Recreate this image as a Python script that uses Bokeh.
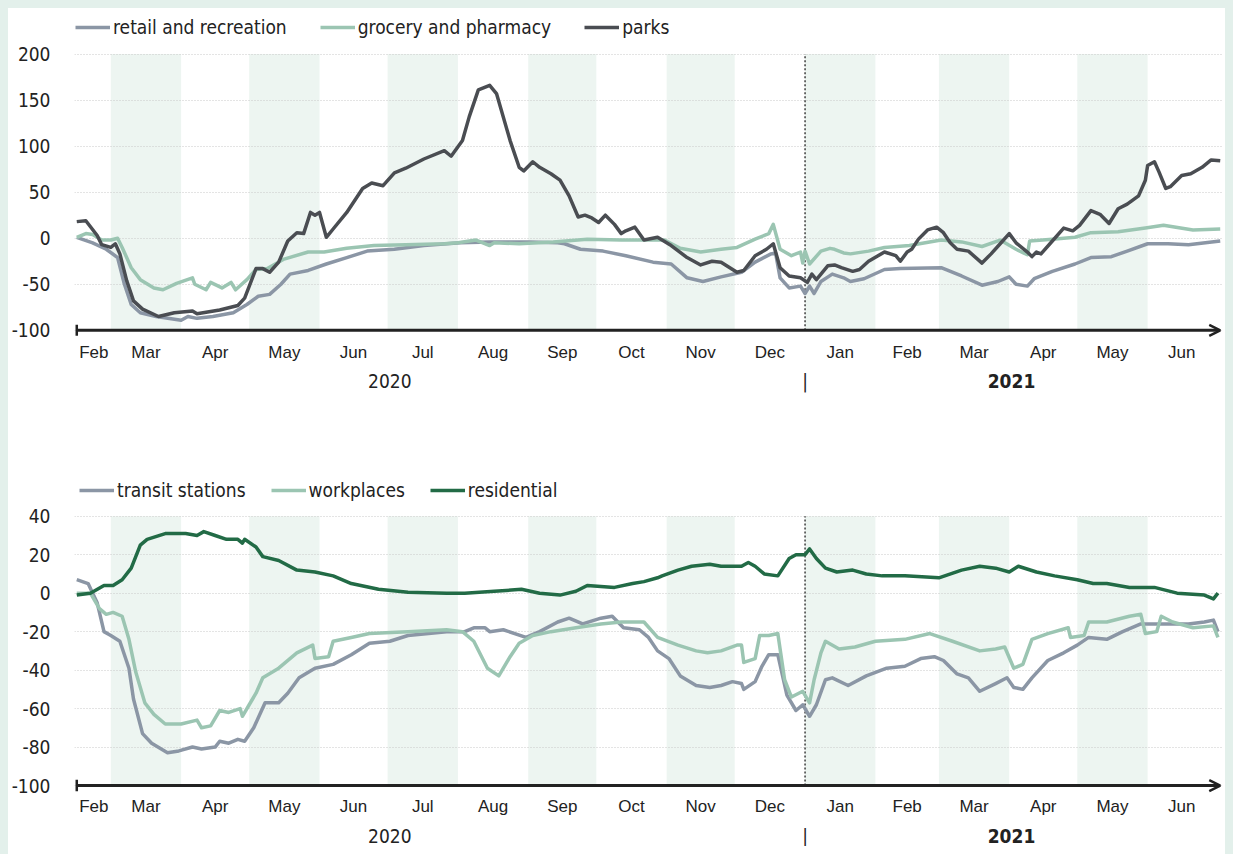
import re
import pandas as pd
from bokeh.plotting import figure
from bokeh.models import (FixedTicker, Legend, LegendItem, Arrow, OpenHead, Range1d)
from bokeh.layouts import column
from bokeh.embed import file_html
from bokeh.resources import INLINE
from bokeh.core.properties import value

# ---------------- data (Google mobility, % change vs baseline) ----------------
parks_dates = ["2020-02-15","2020-02-19","2020-02-24","2020-02-26","2020-03-01","2020-03-03","2020-03-05","2020-03-08","2020-03-11","2020-03-15","2020-03-22","2020-03-29","2020-04-06","2020-04-08","2020-04-18","2020-04-26","2020-04-29","2020-05-04","2020-05-07","2020-05-10","2020-05-14","2020-05-18","2020-05-22","2020-05-25","2020-05-28","2020-05-30","2020-06-01","2020-06-04","2020-06-07","2020-06-13","2020-06-20","2020-06-24","2020-06-29","2020-07-04","2020-07-09","2020-07-17","2020-07-26","2020-07-29","2020-08-03","2020-08-06","2020-08-10","2020-08-15","2020-08-18","2020-08-24","2020-08-28","2020-08-30","2020-09-03","2020-09-06","2020-09-11","2020-09-15","2020-09-19","2020-09-23","2020-09-26","2020-09-29","2020-10-02","2020-10-05","2020-10-09","2020-10-12","2020-10-14","2020-10-18","2020-10-22","2020-10-28","2020-11-03","2020-11-10","2020-11-16","2020-11-21","2020-11-25","2020-12-02","2020-12-05","2020-12-10","2020-12-15","2020-12-18","2020-12-21","2020-12-25","2020-12-30","2021-01-02","2021-01-04","2021-01-06","2021-01-11","2021-01-14","2021-01-17","2021-01-22","2021-01-25","2021-01-29","2021-02-05","2021-02-10","2021-02-12","2021-02-15","2021-02-17","2021-02-20","2021-02-24","2021-02-28","2021-03-03","2021-03-06","2021-03-09","2021-03-14","2021-03-20","2021-03-24","2021-03-28","2021-04-01","2021-04-04","2021-04-09","2021-04-11","2021-04-13","2021-04-15","2021-04-20","2021-04-25","2021-04-29","2021-05-02","2021-05-07","2021-05-11","2021-05-15","2021-05-19","2021-05-23","2021-05-28","2021-05-31","2021-06-01","2021-06-04","2021-06-06","2021-06-09","2021-06-11","2021-06-16","2021-06-20","2021-06-25","2021-06-29","2021-07-03"]
parks_vals = [18,19,3,-7,-10,-6,-17,-46,-68,-77,-85,-81,-79,-82,-78,-73,-65,-33,-33,-37,-26,-3,6,5,28,25,28,1,10,28,54,60,57,71,76,86,95,89,106,132,161,166,157,106,77,73,83,77,70,63,46,23,25,22,17,25,15,5,8,12,-2,1,-8,-21,-29,-25,-26,-37,-35,-19,-12,-6,-32,-41,-43,-48,-39,-45,-30,-29,-32,-36,-34,-25,-15,-19,-25,-15,-12,-1,9,12,6,-5,-12,-14,-27,-17,-6,5,-5,-15,-20,-15,-17,-3,11,8,14,30,26,16,32,37,46,63,79,83,72,54,56,68,70,77,85,84]

retail_dates = ["2020-02-15","2020-02-22","2020-02-28","2020-03-04","2020-03-07","2020-03-10","2020-03-14","2020-03-21","2020-04-01","2020-04-04","2020-04-08","2020-04-15","2020-04-24","2020-04-30","2020-05-05","2020-05-10","2020-05-15","2020-05-19","2020-05-27","2020-06-04","2020-06-13","2020-06-22","2020-07-04","2020-07-17","2020-08-02","2020-08-15","2020-09-01","2020-09-14","2020-09-17","2020-09-24","2020-10-04","2020-10-14","2020-10-26","2020-11-03","2020-11-10","2020-11-17","2020-11-25","2020-12-04","2020-12-10","2020-12-17","2020-12-19","2020-12-21","2020-12-25","2020-12-30","2021-01-01","2021-01-03","2021-01-05","2021-01-08","2021-01-13","2021-01-18","2021-01-21","2021-01-27","2021-02-05","2021-02-12","2021-03-02","2021-03-11","2021-03-20","2021-03-27","2021-04-01","2021-04-04","2021-04-09","2021-04-12","2021-04-20","2021-04-30","2021-05-07","2021-05-16","2021-05-23","2021-06-01","2021-06-10","2021-06-19","2021-07-03"]
retail_vals = [1,-5,-12,-21,-50,-72,-81,-85,-89,-85,-87,-85,-81,-72,-63,-61,-50,-39,-35,-28,-21,-14,-12,-8,-5,-4,-4,-5,-6,-12,-14,-19,-26,-28,-43,-47,-42,-37,-26,-17,-16,-43,-54,-52,-60,-52,-60,-47,-39,-43,-47,-44,-34,-33,-32,-41,-51,-47,-42,-50,-52,-44,-36,-28,-21,-20,-14,-6,-6,-7,-3]

grocery_dates = ["2020-02-15","2020-02-19","2020-02-22","2020-02-26","2020-03-01","2020-03-04","2020-03-06","2020-03-10","2020-03-14","2020-03-20","2020-03-24","2020-03-30","2020-04-06","2020-04-07","2020-04-12","2020-04-14","2020-04-19","2020-04-23","2020-04-25","2020-04-30","2020-05-04","2020-05-09","2020-05-16","2020-05-27","2020-06-03","2020-06-13","2020-06-25","2020-07-09","2020-07-26","2020-08-01","2020-08-09","2020-08-15","2020-08-17","2020-08-28","2020-09-12","2020-09-27","2020-10-12","2020-10-31","2020-11-07","2020-11-16","2020-11-25","2020-12-02","2020-12-10","2020-12-16","2020-12-18","2020-12-21","2020-12-26","2020-12-30","2020-12-31","2021-01-01","2021-01-03","2021-01-08","2021-01-12","2021-01-14","2021-01-18","2021-01-21","2021-01-29","2021-02-05","2021-02-16","2021-03-02","2021-03-11","2021-03-20","2021-03-28","2021-04-04","2021-04-09","2021-04-10","2021-04-20","2021-04-30","2021-05-07","2021-05-19","2021-05-31","2021-06-08","2021-06-21","2021-07-03"]
grocery_vals = [1,5,4,-2,-2,0,-10,-32,-45,-54,-56,-49,-43,-50,-56,-48,-54,-48,-56,-45,-34,-33,-23,-15,-15,-11,-8,-7,-6,-5,-2,-8,-5,-6,-4,-1,-2,-2,-11,-15,-12,-10,-1,5,15,-12,-19,-15,-27,-14,-28,-14,-11,-12,-16,-17,-14,-10,-8,-2,-4,-9,-2,-12,-18,-3,-1,1,6,7,11,14,9,10]

transit_dates = ["2020-02-15","2020-02-20","2020-02-24","2020-02-27","2020-03-01","2020-03-05","2020-03-09","2020-03-11","2020-03-15","2020-03-19","2020-03-26","2020-03-31","2020-04-06","2020-04-10","2020-04-16","2020-04-18","2020-04-22","2020-04-26","2020-04-29","2020-05-03","2020-05-08","2020-05-14","2020-05-18","2020-05-23","2020-05-30","2020-06-07","2020-06-15","2020-06-23","2020-07-02","2020-07-10","2020-07-27","2020-08-04","2020-08-08","2020-08-13","2020-08-15","2020-08-21","2020-08-31","2020-09-06","2020-09-14","2020-09-19","2020-09-25","2020-10-03","2020-10-08","2020-10-13","2020-10-20","2020-10-24","2020-10-28","2020-11-02","2020-11-07","2020-11-14","2020-11-20","2020-11-25","2020-11-30","2020-12-04","2020-12-05","2020-12-10","2020-12-13","2020-12-16","2020-12-20","2020-12-24","2020-12-28","2020-12-31","2021-01-03","2021-01-06","2021-01-10","2021-01-13","2021-01-20","2021-01-28","2021-02-06","2021-02-14","2021-02-21","2021-02-27","2021-03-03","2021-03-09","2021-03-14","2021-03-19","2021-03-26","2021-03-31","2021-04-03","2021-04-07","2021-04-11","2021-04-18","2021-04-25","2021-05-01","2021-05-06","2021-05-14","2021-05-21","2021-05-29","2021-06-09","2021-06-19","2021-06-26","2021-06-30","2021-07-02"]
transit_vals = [7,5,-5,-20,-22,-25,-39,-55,-73,-78,-83,-82,-80,-81,-80,-77,-78,-76,-77,-70,-57,-57,-52,-44,-39,-37,-32,-26,-25,-22,-20,-20,-18,-18,-20,-19,-23,-20,-15,-13,-16,-13,-12,-18,-19,-23,-30,-34,-43,-48,-49,-48,-46,-47,-50,-46,-38,-32,-32,-53,-61,-58,-64,-58,-45,-44,-48,-43,-39,-38,-34,-33,-35,-42,-44,-51,-47,-44,-49,-50,-44,-35,-31,-27,-23,-24,-20,-16,-16,-16,-15,-14,-20]

work_dates = ["2020-02-15","2020-02-21","2020-02-25","2020-02-28","2020-03-02","2020-03-06","2020-03-09","2020-03-12","2020-03-16","2020-03-20","2020-03-25","2020-04-01","2020-04-08","2020-04-10","2020-04-14","2020-04-18","2020-04-22","2020-04-27","2020-04-28","2020-05-01","2020-05-04","2020-05-07","2020-05-14","2020-05-22","2020-05-29","2020-05-30","2020-06-05","2020-06-07","2020-06-15","2020-06-23","2020-07-10","2020-07-27","2020-08-03","2020-08-08","2020-08-14","2020-08-19","2020-08-24","2020-08-28","2020-09-03","2020-09-11","2020-09-22","2020-10-03","2020-10-12","2020-10-22","2020-10-28","2020-11-06","2020-11-14","2020-11-19","2020-11-25","2020-12-02","2020-12-04","2020-12-05","2020-12-10","2020-12-12","2020-12-16","2020-12-20","2020-12-23","2020-12-26","2020-12-31","2021-01-03","2021-01-05","2021-01-08","2021-01-10","2021-01-16","2021-01-23","2021-02-01","2021-02-14","2021-02-25","2021-03-07","2021-03-19","2021-03-26","2021-03-30","2021-04-03","2021-04-07","2021-04-11","2021-04-18","2021-04-27","2021-04-28","2021-05-04","2021-05-06","2021-05-14","2021-05-24","2021-05-29","2021-05-31","2021-06-05","2021-06-07","2021-06-12","2021-06-21","2021-06-30","2021-07-02"]
work_vals = [0,0,-8,-11,-10,-12,-24,-41,-57,-63,-68,-68,-66,-70,-69,-61,-62,-60,-64,-58,-52,-44,-39,-31,-27,-34,-33,-25,-23,-21,-20,-19,-20,-25,-39,-43,-33,-26,-22,-20,-18,-16,-15,-15,-23,-27,-30,-31,-30,-27,-27,-36,-34,-22,-22,-21,-45,-54,-51,-57,-45,-31,-25,-29,-28,-25,-24,-21,-25,-30,-29,-28,-39,-37,-24,-21,-18,-23,-22,-15,-15,-12,-11,-21,-20,-12,-15,-18,-17,-23]

resid_dates = ["2020-02-15","2020-02-21","2020-02-27","2020-03-02","2020-03-06","2020-03-10","2020-03-14","2020-03-17","2020-03-25","2020-04-03","2020-04-08","2020-04-11","2020-04-16","2020-04-21","2020-04-26","2020-04-28","2020-04-29","2020-05-04","2020-05-07","2020-05-14","2020-05-22","2020-05-30","2020-06-07","2020-06-15","2020-06-27","2020-07-10","2020-07-27","2020-08-04","2020-08-17","2020-08-29","2020-09-06","2020-09-15","2020-09-22","2020-09-27","2020-10-09","2020-10-17","2020-10-22","2020-10-28","2020-10-30","2020-11-06","2020-11-12","2020-11-20","2020-11-25","2020-12-04","2020-12-07","2020-12-10","2020-12-14","2020-12-20","2020-12-25","2020-12-28","2021-01-01","2021-01-03","2021-01-06","2021-01-10","2021-01-15","2021-01-22","2021-01-28","2021-02-04","2021-02-14","2021-03-01","2021-03-11","2021-03-19","2021-03-26","2021-04-01","2021-04-05","2021-04-13","2021-04-21","2021-05-01","2021-05-08","2021-05-14","2021-05-24","2021-06-04","2021-06-14","2021-06-26","2021-06-30","2021-07-02"]
resid_vals = [-1,0,4,4,7,13,25,28,31,31,30,32,30,28,28,26,28,24,19,17,12,11,9,5,2,0.5,0,0,1,2,0,-1,1,4,3,5,6,8,9,12,14,15,14,14,16,14,10,9,18,20,20,23,18,13,11,12,10,9,9,8,12,14,13,11,14,11,9,7,5,5,3,3,0,-1,-3,0]

top_labels = ["retail and recreation", "grocery and pharmacy", "parks"]
bottom_labels = ["transit stations", "workplaces", "residential"]
top_yticks = [-100, -50, 0, 50, 100, 150, 200]
bottom_yticks = [-100, -80, -60, -40, -20, 0, 20, 40]
month_labels = ["Feb", "Mar", "Apr", "May", "Jun", "Jul", "Aug", "Sep", "Oct", "Nov", "Dec",
                "Jan", "Feb", "Mar", "Apr", "May", "Jun"]
band_months = ["2020-03", "2020-05", "2020-07", "2020-09", "2020-11", "2021-01", "2021-03", "2021-05"]
year_labels = ["2020", "|"]
year_label_dates = ["2020-07-02", "2021-01-01"]
bold_year_label = "2021"
bold_year_date = "2021-04-02"

# ---------------- style ----------------
C_GRAY = "#8b96a5"
C_LGREEN = "#9bc5b2"
C_DARK = "#4a4d52"
C_RES = "#226b46"
BAND = "#edf5f1"
BG = "#e3f0eb"
TXT = "#222222"
FONT_A = "'DejaVu Sans Condensed', 'DejaVu Sans', sans-serif"
FONT_B = "'Liberation Sans Narrow', 'Liberation Sans', sans-serif"


def ms(t):
    return pd.Timestamp(t).value / 1e6


X0 = pd.Timestamp("2020-02-15")
XS = X0 - pd.Timedelta(days=1)
XE = X0 + pd.Timedelta(days=505)
ARROW_END = X0 + pd.Timedelta(days=504)

month_starts = pd.date_range("2020-03-01", "2021-07-01", freq="MS")
tick_pos = [ms(X0 + (month_starts[0] - X0) / 2)] + [
    ms(a + (b - a) / 2) for a, b in zip(month_starts[:-1], month_starts[1:])]


def panel(series, labels, yticks, y_start, y_end, top_val, height, b_top, b_bottom,
          month_y, year_y, tick_half, legend_margin, legend_spacing):
    p = figure(width=1225, height=height,
               x_range=Range1d(ms(XS), ms(XE)), y_range=Range1d(y_start, y_end),
               output_backend="svg", toolbar_location=None,
               min_border_left=65, min_border_right=11,
               min_border_top=b_top, min_border_bottom=b_bottom)
    p.outline_line_color = None
    p.background_fill_color = "white"
    p.border_fill_color = "white"

    # month bands
    lefts = [ms(m + "-01") for m in band_months]
    rights = [ms(pd.Timestamp(m + "-01") + pd.offsets.MonthBegin(1)) for m in band_months]
    bands = p.quad(left=lefts, right=rights, bottom=-100, top=top_val,
                   fill_color=BAND, line_color=None)
    bands.level = "image"

    # grid
    p.xgrid.visible = False
    p.ygrid.ticker = FixedTicker(ticks=yticks)
    p.ygrid.grid_line_color = "#c9c9c9"
    p.ygrid.grid_line_dash = "1 2"
    p.ygrid.grid_line_width = 1

    # year boundary
    jan = ms("2021-01-01")
    p.segment(x0=[jan], y0=[-100], x1=[jan], y1=[top_val], line_color="#222222",
              line_dash="2 2", line_width=1.3)

    renderers = []
    for (dates, vals, color) in series:
        r = p.line(x=[ms(d) for d in dates], y=vals, line_color=color, line_width=3.5,
                   line_join="round")
        renderers.append(r)

    # axis line with arrow and start tick
    p.add_layout(Arrow(x_start=ms(X0), y_start=-100, x_end=ms(ARROW_END), y_end=-100,
                       line_color=TXT, line_width=3,
                       end=OpenHead(size=11, line_color=TXT, line_width=2.5)))
    p.segment(x0=[ms(X0)], y0=[-100 - tick_half], x1=[ms(X0)], y1=[-100 + tick_half],
              line_color=TXT, line_width=2.5)

    # y axis
    p.yaxis.ticker = FixedTicker(ticks=yticks)
    p.yaxis.major_label_overrides = {t: str(t) for t in yticks}
    p.yaxis.axis_line_color = None
    p.yaxis.major_tick_line_color = None
    p.yaxis.minor_tick_line_color = None
    p.yaxis.major_label_standoff = 18
    p.yaxis.major_label_text_font = FONT_A
    p.yaxis.major_label_text_font_size = "19px"
    p.yaxis.major_label_text_color = TXT
    p.xaxis.visible = False

    # month and year labels (drawn inside the extended frame)
    p.text(x=tick_pos, y=[month_y] * len(tick_pos), text=month_labels,
           text_align="center", text_baseline="middle", text_font=value(FONT_B),
           text_font_size="17px", text_color=TXT)
    p.text(x=[ms(d) for d in year_label_dates], y=[year_y] * len(year_labels),
           text=year_labels, text_align="center", text_baseline="middle",
           text_font=value(FONT_A), text_font_size="19px", text_color=TXT)
    p.text(x=[ms(bold_year_date)], y=[year_y], text=[bold_year_label],
           text_align="center", text_baseline="middle", text_font=value(FONT_A),
           text_font_size="19px", text_font_style="bold", text_color=TXT)

    legend = Legend(items=[LegendItem(label=l, renderers=[r]) for l, r in zip(labels, renderers)],
                    orientation="horizontal", location="top_left",
                    glyph_width=35, glyph_height=20, label_standoff=3,
                    spacing=legend_spacing, padding=0, margin=legend_margin,
                    background_fill_alpha=0, border_line_alpha=0,
                    label_text_font=FONT_A, label_text_font_size="19px",
                    label_text_color=TXT)
    p.add_layout(legend)
    return p


# top: 200 at y=53.5, -100 at y=329.8 (0.921 px/unit); frame 15..400
top = panel([(retail_dates, retail_vals, C_GRAY),
             (grocery_dates, grocery_vals, C_LGREEN),
             (parks_dates, parks_vals, C_DARK)],
            top_labels, top_yticks, -176.2, 241.8, 200, 425, 7, 33,
            -124, -155, 6, 1, 33)

# bottom: 40 at y=515.7, -100 at y=785 (1.924 px/unit); frame 474..846
bottom = panel([(transit_dates, transit_vals, C_GRAY),
                (work_dates, work_vals, C_LGREEN),
                (resid_dates, resid_vals, C_RES)],
               bottom_labels, bottom_yticks, -131.7, 61.7, 40, 413, 41, 0,
               -110.9, -126, 3, 5, 25)

layout = column(top, bottom, spacing=0)
html = file_html(layout, INLINE)
style = ("<style>html{overflow:hidden !important;background:%s !important;}"
         " body{margin:8px !important;padding:0 !important;background:#ffffff !important;"
         "overflow:hidden !important;}</style>" % BG)
html = re.sub(r"</head>", style + "</head>", html, count=1)
open("out.html", "w").write(html)
